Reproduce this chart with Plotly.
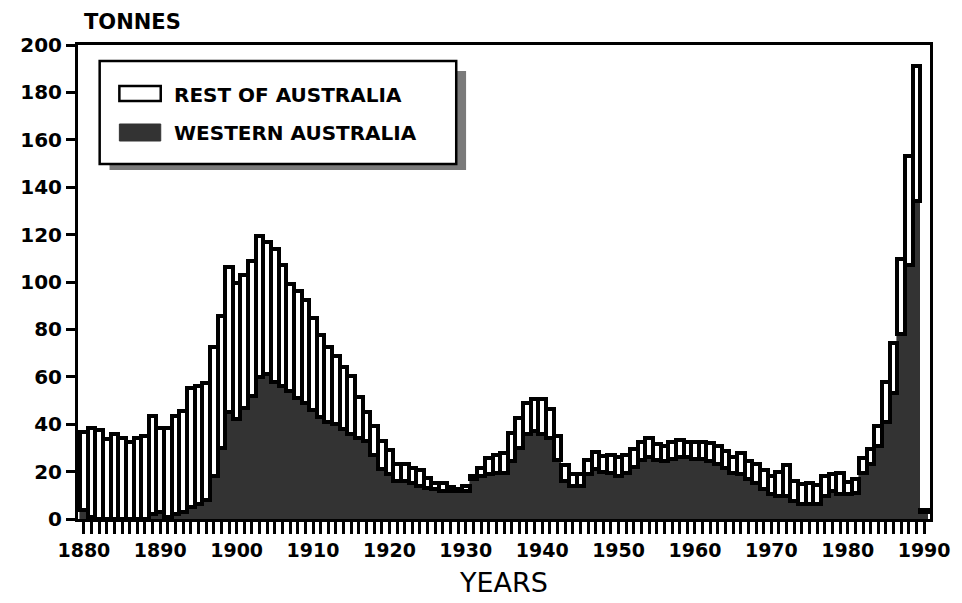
import plotly.graph_objects as go

# ---------------- data ----------------
years = list(range(1880, 1991))

western_australia = [
    4, 1, 0, 0, 0, 0, 0, 0, 0, 2,
    3, 1, 2, 3, 5, 6.5, 8, 18, 30, 45,
    42, 47, 52, 60, 61, 58, 56, 54, 51, 49,
    46, 43, 41, 40, 38, 36, 34, 33, 27, 21,
    19, 16, 16, 15, 14, 13, 12.5, 12, 12, 12,
    12, 17, 18, 19, 19.5, 19.5, 24.5, 30, 36, 37,
    36, 34, 25, 16, 14, 14, 19, 21, 20, 19.5,
    18, 19.5, 22, 25, 26, 25, 24.5, 25.5, 26, 26,
    25.5, 25.5, 24.5, 23, 21.5, 19.5, 19, 16.7, 15.3, 12.5,
    10.4, 9.7, 9.7, 7.6, 6.2, 6.2, 6.2, 9.7, 11.8, 10.4,
    10.4, 11, 19.5, 23, 31, 41, 53, 78, 107, 134,
    3,
]

rest_of_australia = [
    32.7, 37.4, 37.4, 33.6, 35.7, 34, 32.5, 34.2, 35, 41.3,
    35.5, 37.5, 41.5, 42.6, 50.3, 49.6, 49.4, 54.6, 55.7, 61.5,
    57.4, 55.8, 56.7, 59.4, 56, 56, 51, 45, 45, 43.5,
    38.7, 34.6, 31.6, 28.8, 26, 24.3, 17.6, 12, 12.2, 12,
    10, 7.3, 7, 6.7, 6.7, 4.2, 2.8, 3, 1.6, 0.5,
    1.9, 1, 3.7, 6.6, 7.5, 8.5, 11.9, 12.7, 13, 13.8,
    14.8, 12.3, 10, 6.8, 5.1, 5.1, 6, 7.4, 6.6, 7.5,
    8, 7.5, 7.7, 7.6, 8, 6.8, 6.3, 7.1, 7.2, 6.6,
    7.1, 6.9, 7.4, 7.8, 7.2, 6.7, 8.7, 7.6, 8.1, 8,
    7.7, 10.1, 12.9, 8.4, 8.7, 9.1, 8.1, 8.4, 7.3, 9.1,
    5.2, 6, 6.4, 6.7, 8.2, 16.8, 21.1, 31.8, 46.2, 57,
    1,
]

x_tick_years = [1880, 1890, 1900, 1910, 1920, 1930, 1940, 1950, 1960, 1970, 1980, 1990]
x_tick_labels = ["1880", "1890", "1900", "1910", "1920", "1930", "1940", "1950", "1960", "1970", "1980", "1990"]
y_tick_values = [0, 20, 40, 60, 80, 100, 120, 140, 160, 180, 200]
series_names = ["REST OF AUSTRALIA", "WESTERN AUSTRALIA"]

# ---------------- layout geometry (page pixels) ----------------
PAGE_W, PAGE_H = 962, 603
OFF = 8                      # default body margin of the html page
W, H = PAGE_W - OFF, PAGE_H - OFF
L, R, T, B = 73, 938, 45, 519  # plot area in page pixels
DARK = "#333333"
FONT = "DejaVu Sans"


def px(x):
    return (x - L) / (R - L)


def py(y):
    return (B - y) / (B - T)


fig = go.Figure()
fig.add_trace(go.Bar(
    x=years, y=western_australia, name=series_names[1],
    marker=dict(color=DARK, line=dict(color=DARK, width=0.6)),
    showlegend=False,
))
fig.add_trace(go.Bar(
    x=years, y=rest_of_australia, name=series_names[0],
    marker=dict(color="white", line=dict(color="black", width=4.5)),
    showlegend=False,
))

shapes = [
    # legend shadow
    dict(type="rect", xref="paper", yref="paper", x0=px(105), x1=px(467), y0=py(71), y1=py(170),
         fillcolor="#7a7a7a", line=dict(width=0), layer="above"),
    # legend box
    dict(type="rect", xref="paper", yref="paper", x0=px(95), x1=px(457), y0=py(61), y1=py(164),
         fillcolor="white", line=dict(color="black", width=2.5), layer="above"),
    # swatches
    dict(type="rect", xref="paper", yref="paper", x0=px(115), x1=px(157), y0=py(86), y1=py(101),
         fillcolor="white", line=dict(color="black", width=2.5), layer="above"),
    dict(type="rect", xref="paper", yref="paper", x0=px(115), x1=px(157), y0=py(124), y1=py(141),
         fillcolor=DARK, line=dict(color=DARK, width=1), layer="above"),
]

annotations = [
    dict(text="TONNES", xref="paper", yref="paper", x=px(128), y=py(22), showarrow=False,
         xanchor="center", yanchor="middle", font=dict(family=FONT, size=21, color="black", weight="bold")),
    dict(text="YEARS", xref="paper", yref="paper", x=px(505), y=py(582), showarrow=False,
         xanchor="center", yanchor="middle", font=dict(family=FONT, size=27, color="black")),
    dict(text=series_names[0], xref="paper", yref="paper", x=px(168), y=py(95), showarrow=False,
         xanchor="left", yanchor="middle", font=dict(family=FONT, size=20, color="black", weight="bold")),
    dict(text=series_names[1], xref="paper", yref="paper", x=px(168), y=py(133), showarrow=False,
         xanchor="left", yanchor="middle", font=dict(family=FONT, size=20, color="black", weight="bold")),
]

fig.update_layout(
    width=W, height=H,
    margin=dict(l=L - OFF, r=PAGE_W - R, t=T - OFF, b=PAGE_H - B, pad=0),
    paper_bgcolor="white", plot_bgcolor="white",
    barmode="stack", bargap=0,
    shapes=shapes, annotations=annotations,
    showlegend=False,
    xaxis=dict(
        range=[1879.23, 1990.77],
        tickmode="array", tickvals=x_tick_years, ticktext=x_tick_labels,
        ticks="outside", ticklen=12, tickwidth=3, tickcolor="black",
        minor=dict(tickmode="array", tickvals=years, ticks="outside",
                   ticklen=12, tickwidth=3, tickcolor="black"),
        showline=True, linecolor="black", linewidth=3, mirror=True,
        showgrid=False, zeroline=False,
        tickfont=dict(family=FONT, size=19, color="black", weight="bold"),
    ),
    yaxis=dict(
        range=[0, 200],
        tickvals=y_tick_values,
        ticks="outside", ticklen=9, tickwidth=3, tickcolor="black",
        showline=True, linecolor="black", linewidth=3, mirror=True,
        showgrid=False, zeroline=False,
        tickfont=dict(family=FONT, size=20, color="black", weight="bold"),
    ),
)

fig.write_html("out.html")
